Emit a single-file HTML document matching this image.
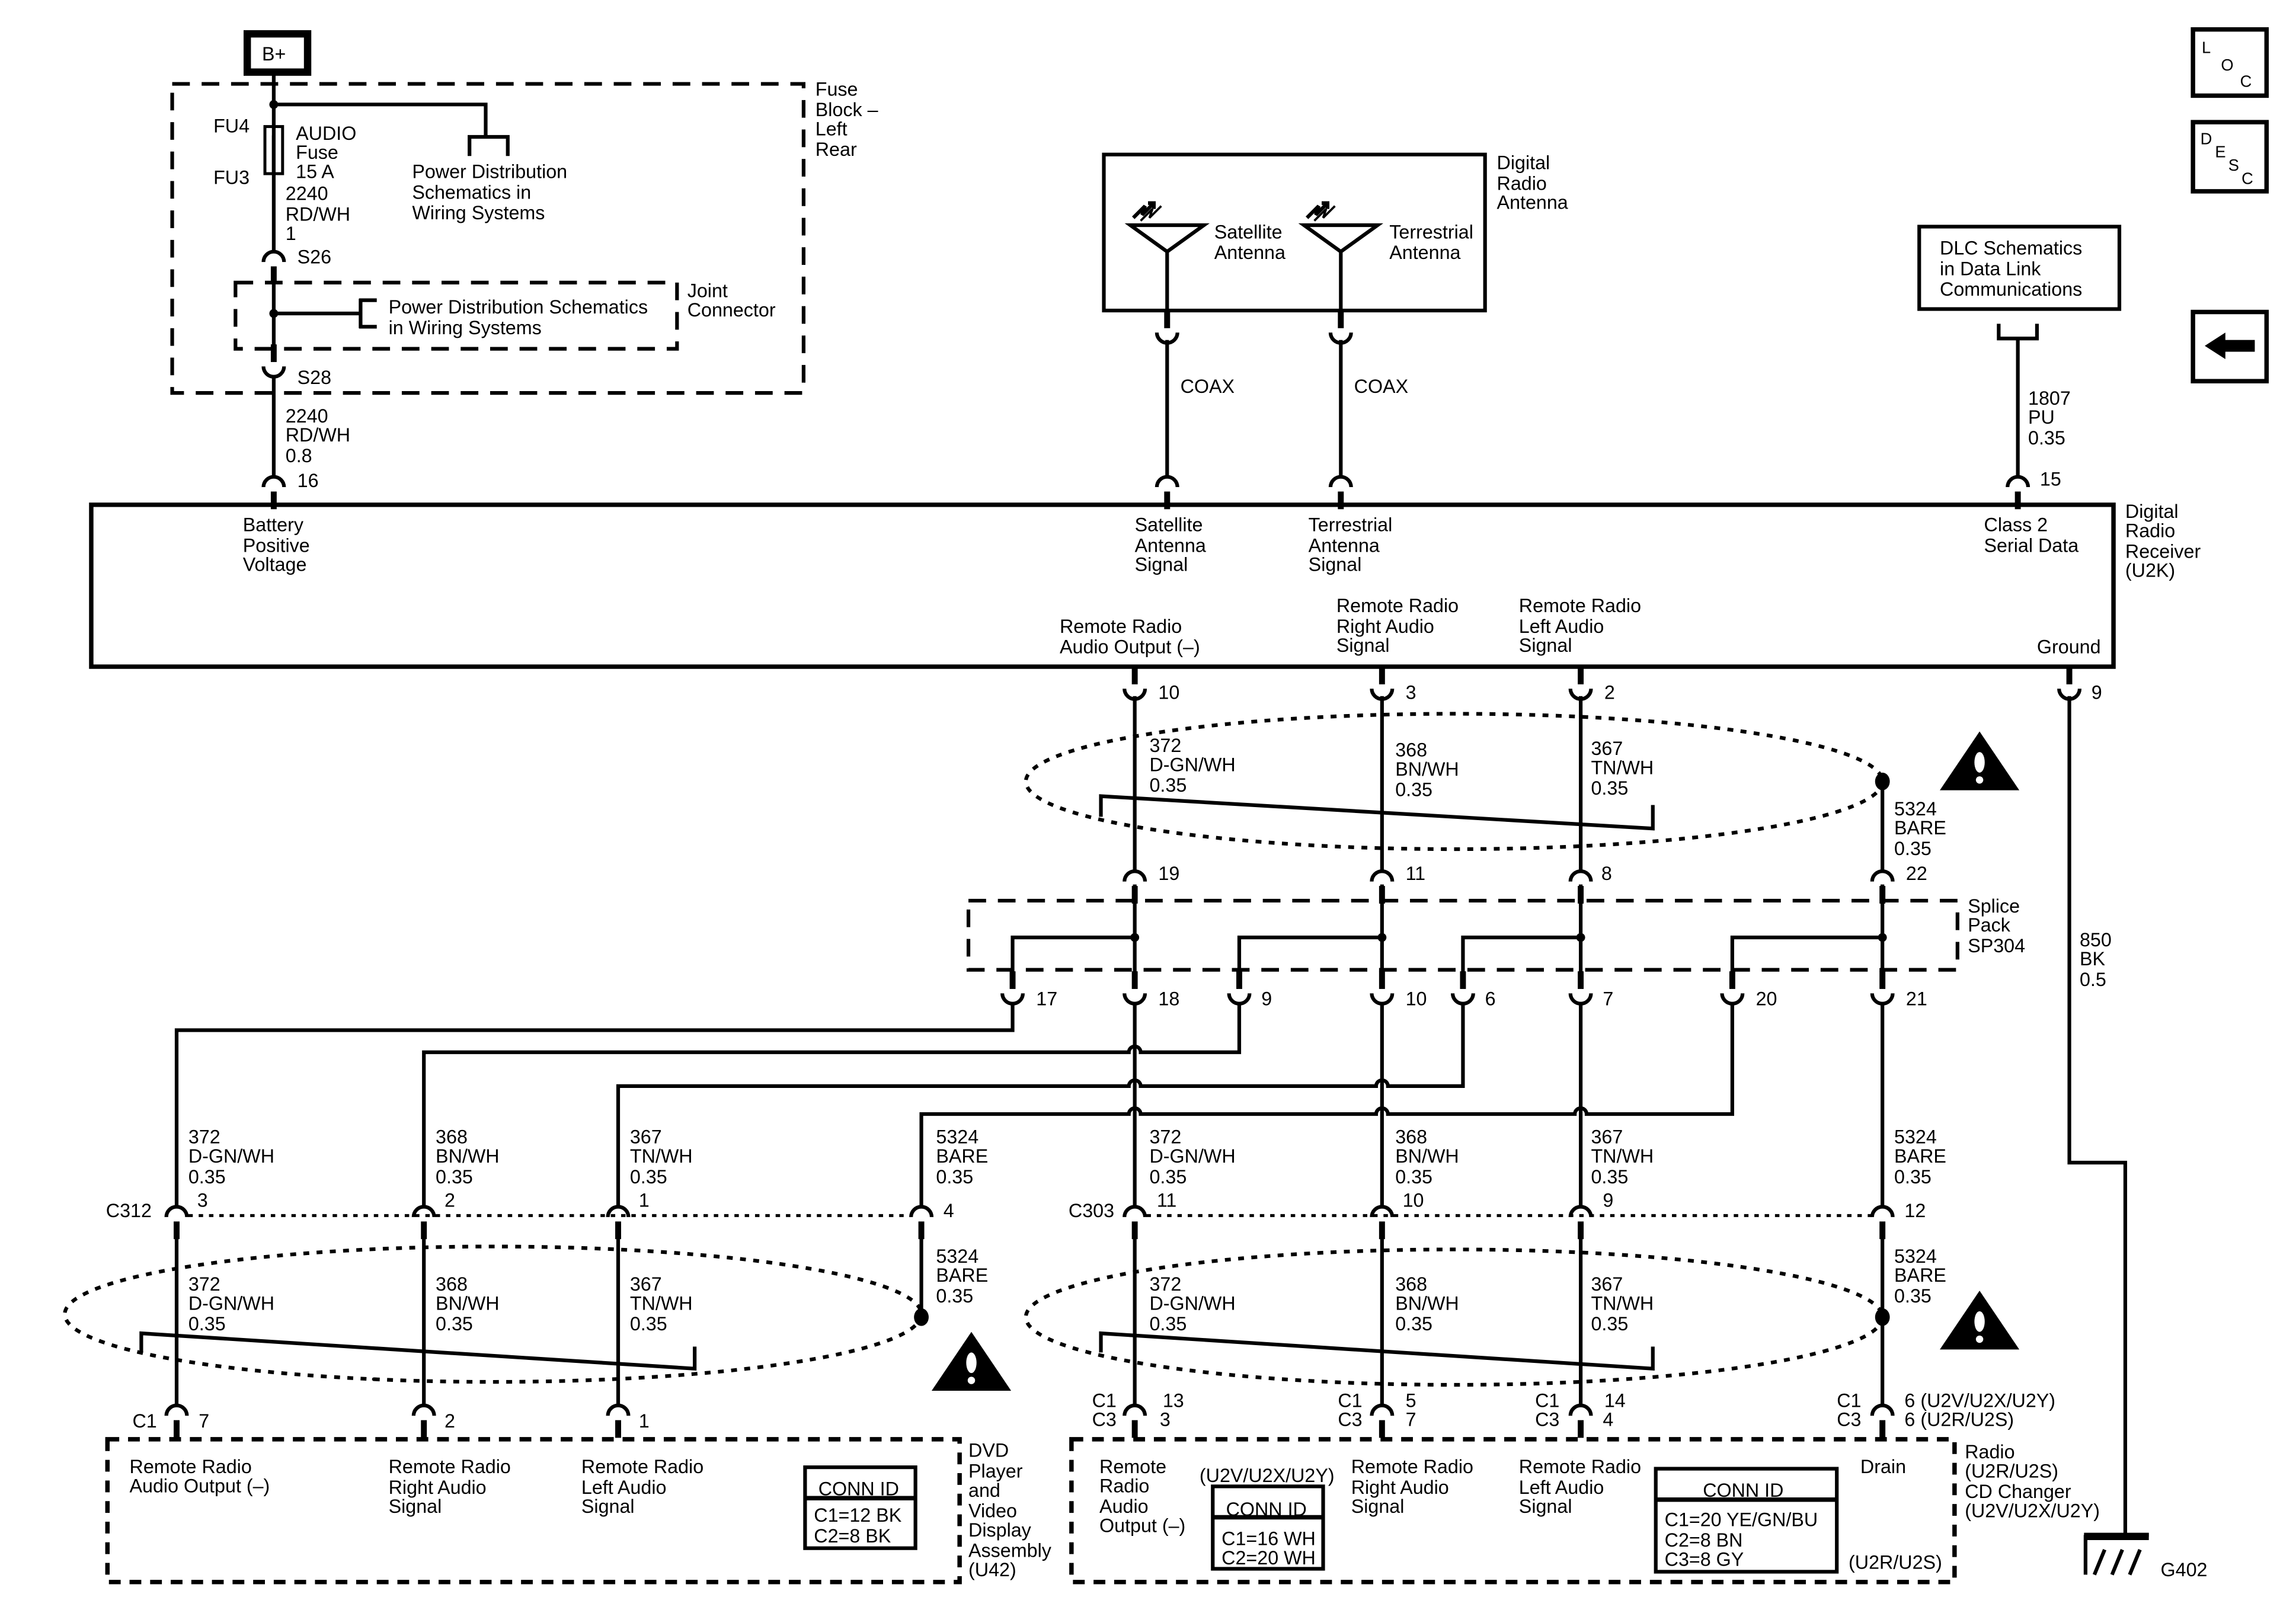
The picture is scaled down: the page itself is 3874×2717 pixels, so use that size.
<!DOCTYPE html>
<html><head><meta charset="utf-8"><style>
html,body{margin:0;padding:0;background:#fff;}
svg{display:block;}
text{font-family:"Liberation Sans",Arial,sans-serif;font-size:13px;fill:#000;}
</style></head><body>
<svg width="3874" height="2717" viewBox="0 0 1560 1094" preserveAspectRatio="none" xmlns="http://www.w3.org/2000/svg">
<defs>
<g id="fa"><path d="M-7,1 A7,7 0 0 1 7,1" fill="none" stroke="#000" stroke-width="2.5"/><rect x="-2" y="4" width="4" height="12" fill="#000"/></g>
<g id="ma"><path d="M-7,-1 A7,7 0 0 0 7,-1" fill="none" stroke="#000" stroke-width="2.5"/><rect x="-2" y="-16" width="4" height="12" fill="#000"/></g>
</defs>
<rect width="1560" height="1094" fill="#fff"/>
<g fill="none" stroke="#000" stroke-width="2.5">
<rect x="168" y="23" width="41" height="26" stroke-width="5"/>
<rect x="117" y="57" width="429" height="210" stroke-dasharray="12 8"/>
<path d="M186,49 V171"/>
<path d="M186,71 H330 V93"/>
<path d="M319,106 V93 H345 V106"/>
<rect x="180" y="86" width="12" height="32" stroke-width="2"/>
<path d="M186,92 V118"/>
<rect x="160" y="192" width="300" height="45" stroke-dasharray="12 8"/>
<path d="M186,193 V243"/>
<path d="M186,213 H245 M245,203 V223 M244,204 H256 M244,222 H256"/>
<path d="M186,257 V323"/>
<rect x="62" y="343" width="1374" height="110" stroke-width="3"/>
<rect x="750" y="105" width="259" height="106"/>
<path d="M768,153 H818 L793,171 Z M793,171 V211"/>
<path d="M886,153 H936 L911,171 Z M911,171 V211"/>
<path d="M793,231 V323 M911,231 V323"/>
<rect x="1304" y="154" width="136" height="56"/>
<path d="M1358,220 V230 H1384 V220 M1371,230 V323"/>
<rect x="1490" y="20" width="50" height="45" stroke-width="3"/>
<rect x="1490" y="83" width="50" height="47" stroke-width="3"/>
<rect x="1490" y="212" width="50" height="47" stroke-width="3"/>
<path d="M771,473 V591 M939,473 V591 M1074,473 V591 M1279,531 V591"/>
<path d="M771,601 V669 M939,601 V669 M1074,601 V669 M1279,601 V669" stroke-width="2.5"/>
<path d="M771,637 H688 V669 M939,637 H842 V669 M1074,637 H994 V669 M1279,637 H1177 V669"/>
<rect x="658" y="612" width="672" height="47" stroke-dasharray="12 8"/>
<path d="M771,683 V819 M939,683 V819 M1074,683 V819 M1279,683 V819"/>
<path d="M688,683 V700 H120 V819"/>
<path d="M842,683 V715 H775 A4,4 0 0 0 767,715 H288 V819"/>
<path d="M994,683 V738 H943 A4,4 0 0 0 935,738 H775 A4,4 0 0 0 767,738 H420 V819"/>
<path d="M1177,683 V757 H1078 A4,4 0 0 0 1070,757 H943 A4,4 0 0 0 935,757 H775 A4,4 0 0 0 767,757 H626 V819"/>
<path d="M1406,473 V790 H1444 V1043"/>
<path d="M128,826 H619 M779,826 H1272" stroke-dasharray="3 4" stroke-width="2"/>
<path d="M120,841 V954 M288,841 V954 M420,841 V954 M626,841 V895"/>
<path d="M771,841 V954 M939,841 V954 M1074,841 V954 M1279,841 V954"/>
<ellipse cx="988" cy="531" rx="291" ry="46" stroke-dasharray="4 5"/>
<ellipse cx="335" cy="893" rx="291" ry="46" stroke-dasharray="4 5"/>
<ellipse cx="988" cy="895" rx="291" ry="46" stroke-dasharray="4 5"/>
<path d="M748,555 V541 L1123,563 V547"/>
<path d="M96,919 V906 L472,930 V915"/>
<path d="M748,919 V906 L1123,930 V915"/>
<rect x="73" y="978" width="579" height="97" stroke-dasharray="8 6" stroke-width="3"/>
<rect x="728" y="978" width="600" height="97" stroke-dasharray="8 6" stroke-width="3"/>
<rect x="547" y="997" width="75" height="55" stroke-width="2.5"/>
<path d="M547,1018 H622" stroke-width="3"/>
<rect x="824" y="1010" width="75" height="56" stroke-width="2.5"/>
<path d="M824,1031 H899" stroke-width="3"/>
<rect x="1125" y="998" width="123" height="70" stroke-width="2.5"/>
<path d="M1125,1019 H1248" stroke-width="3"/>
<path d="M1416,1043 H1460 M1417,1043 V1070 M1423,1070 L1430,1053 M1435,1070 L1442,1053 M1447,1070 L1454,1053" stroke-width="2.5"/>
<path d="M1416,1044 H1460" stroke-width="5"/>
<path d="M770,148 L778,140 L776,146 L784,138 M780,138 H784 V142"/>
<path d="M775,150 L783,142 L781,148 L789,140" stroke-width="1.5"/>
<path d="M888,148 L896,140 L894,146 L902,138 M898,138 H902 V142"/>
<path d="M893,150 L901,142 L899,148 L907,140" stroke-width="1.5"/>
</g>
<g fill="#000">
<circle cx="186" cy="71" r="3"/><circle cx="186" cy="213" r="3"/>
<circle cx="771" cy="637" r="3"/><circle cx="939" cy="637" r="3"/><circle cx="1074" cy="637" r="3"/><circle cx="1279" cy="637" r="3"/>
<ellipse cx="1279" cy="531" rx="5" ry="6"/><ellipse cx="626" cy="895" rx="5" ry="6"/><ellipse cx="1279" cy="895" rx="5" ry="6"/>
<polygon points="1318,537 1372,537 1345,497"/>
<polygon points="1318,917 1372,917 1345,877"/>
<polygon points="633,945 687,945 660,905"/>
<polygon points="1498,235 1512,226 1512,244"/><rect x="1511" y="231" width="21" height="8"/>
</g>
<g fill="#fff">
<ellipse cx="1345" cy="518" rx="3.5" ry="7"/><circle cx="1345" cy="530" r="2.5"/>
<ellipse cx="1345" cy="898" rx="3.5" ry="7"/><circle cx="1345" cy="910" r="2.5"/>
<ellipse cx="660" cy="926" rx="3.5" ry="7"/><circle cx="660" cy="938" r="2.5"/>
</g>
<use href="#fa" x="186" y="177"/>
<use href="#ma" x="186" y="250"/>
<use href="#fa" x="186" y="330"/><use href="#fa" x="793" y="330"/><use href="#fa" x="911" y="330"/><use href="#fa" x="1371" y="330"/>
<use href="#ma" x="793" y="227"/><use href="#ma" x="911" y="227"/>
<use href="#ma" x="771" y="469"/><use href="#ma" x="939" y="469"/><use href="#ma" x="1074" y="469"/><use href="#ma" x="1406" y="469"/>
<use href="#fa" x="771" y="598"/><use href="#fa" x="939" y="598"/><use href="#fa" x="1074" y="598"/><use href="#fa" x="1279" y="598"/>
<use href="#ma" x="688" y="676"/><use href="#ma" x="771" y="676"/><use href="#ma" x="842" y="676"/><use href="#ma" x="939" y="676"/><use href="#ma" x="994" y="676"/><use href="#ma" x="1074" y="676"/><use href="#ma" x="1177" y="676"/><use href="#ma" x="1279" y="676"/>
<use href="#fa" x="120" y="826"/><use href="#fa" x="288" y="826"/><use href="#fa" x="420" y="826"/><use href="#fa" x="626" y="826"/>
<use href="#fa" x="771" y="826"/><use href="#fa" x="939" y="826"/><use href="#fa" x="1074" y="826"/><use href="#fa" x="1279" y="826"/>
<use href="#fa" x="120" y="961"/><use href="#fa" x="288" y="961"/><use href="#fa" x="420" y="961"/>
<use href="#fa" x="771" y="961"/><use href="#fa" x="939" y="961"/><use href="#fa" x="1074" y="961"/><use href="#fa" x="1279" y="961"/>
<text x="178" y="41">B+</text>
<text x="554" y="65">Fuse</text><text x="554" y="79">Block –</text><text x="554" y="92">Left</text><text x="554" y="106">Rear</text>
<text x="145" y="90">FU4</text><text x="145" y="125">FU3</text>
<text x="201" y="95">AUDIO</text><text x="201" y="108">Fuse</text><text x="201" y="121">15 A</text>
<text x="280" y="121">Power Distribution</text><text x="280" y="135">Schematics in</text><text x="280" y="149">Wiring Systems</text>
<text x="194" y="136">2240</text><text x="194" y="150">RD/WH</text><text x="194" y="163">1</text>
<text x="202" y="179">S26</text>
<text x="467" y="202">Joint</text><text x="467" y="215">Connector</text>
<text x="264" y="213">Power Distribution Schematics</text><text x="264" y="227">in Wiring Systems</text>
<text x="202" y="261">S28</text>
<text x="194" y="287">2240</text><text x="194" y="300">RD/WH</text><text x="194" y="314">0.8</text>
<text x="202" y="331">16</text>
<text x="1017" y="115">Digital</text><text x="1017" y="129">Radio</text><text x="1017" y="142">Antenna</text>
<text x="825" y="162">Satellite</text><text x="825" y="176">Antenna</text>
<text x="944" y="162">Terrestrial</text><text x="944" y="176">Antenna</text>
<text x="802" y="267">COAX</text><text x="920" y="267">COAX</text>
<text x="1318" y="173">DLC Schematics</text><text x="1318" y="187">in Data Link</text><text x="1318" y="201">Communications</text>
<text x="1378" y="275">1807</text><text x="1378" y="288">PU</text><text x="1378" y="302">0.35</text><text x="1386" y="330">15</text>
<text x="1496" y="36" style="font-size:11px">L</text><text x="1509" y="48" style="font-size:11px">O</text><text x="1522" y="59" style="font-size:11px">C</text>
<text x="1495" y="98" style="font-size:11px">D</text><text x="1505" y="107" style="font-size:11px">E</text><text x="1514" y="116" style="font-size:11px">S</text><text x="1523" y="125" style="font-size:11px">C</text>
<text x="1444" y="352">Digital</text><text x="1444" y="365">Radio</text><text x="1444" y="379">Receiver</text><text x="1444" y="392">(U2K)</text>
<text x="165" y="361">Battery</text><text x="165" y="375">Positive</text><text x="165" y="388">Voltage</text>
<text x="771" y="361">Satellite</text><text x="771" y="375">Antenna</text><text x="771" y="388">Signal</text>
<text x="889" y="361">Terrestrial</text><text x="889" y="375">Antenna</text><text x="889" y="388">Signal</text>
<text x="1348" y="361">Class 2</text><text x="1348" y="375">Serial Data</text>
<text x="1384" y="444">Ground</text>
<text x="720" y="430">Remote Radio</text><text x="720" y="444">Audio Output (–)</text>
<text x="908" y="416">Remote Radio</text><text x="908" y="430">Right Audio</text><text x="908" y="443">Signal</text>
<text x="1032" y="416">Remote Radio</text><text x="1032" y="430">Left Audio</text><text x="1032" y="443">Signal</text>
<text x="787" y="475">10</text><text x="955" y="475">3</text><text x="1090" y="475">2</text><text x="1421" y="475">9</text>
<text x="781" y="511">372</text><text x="781" y="524">D-GN/WH</text><text x="781" y="538">0.35</text>
<text x="948" y="514">368</text><text x="948" y="527">BN/WH</text><text x="948" y="541">0.35</text>
<text x="1081" y="513">367</text><text x="1081" y="526">TN/WH</text><text x="1081" y="540">0.35</text>
<text x="1287" y="554">5324</text><text x="1287" y="567">BARE</text><text x="1287" y="581">0.35</text>
<text x="787" y="598">19</text><text x="955" y="598">11</text><text x="1088" y="598">8</text><text x="1295" y="598">22</text>
<text x="1337" y="620">Splice</text><text x="1337" y="633">Pack</text><text x="1337" y="647">SP304</text>
<text x="704" y="683">17</text><text x="787" y="683">18</text><text x="857" y="683">9</text><text x="955" y="683">10</text><text x="1009" y="683">6</text><text x="1089" y="683">7</text><text x="1193" y="683">20</text><text x="1295" y="683">21</text>
<text x="1413" y="643">850</text><text x="1413" y="656">BK</text><text x="1413" y="670">0.5</text>
<text x="128" y="777">372</text><text x="128" y="790">D-GN/WH</text><text x="128" y="804">0.35</text>
<text x="296" y="777">368</text><text x="296" y="790">BN/WH</text><text x="296" y="804">0.35</text>
<text x="428" y="777">367</text><text x="428" y="790">TN/WH</text><text x="428" y="804">0.35</text>
<text x="636" y="777">5324</text><text x="636" y="790">BARE</text><text x="636" y="804">0.35</text>
<text x="781" y="777">372</text><text x="781" y="790">D-GN/WH</text><text x="781" y="804">0.35</text>
<text x="948" y="777">368</text><text x="948" y="790">BN/WH</text><text x="948" y="804">0.35</text>
<text x="1081" y="777">367</text><text x="1081" y="790">TN/WH</text><text x="1081" y="804">0.35</text>
<text x="1287" y="777">5324</text><text x="1287" y="790">BARE</text><text x="1287" y="804">0.35</text>
<text x="72" y="827">C312</text><text x="134" y="820">3</text><text x="302" y="820">2</text><text x="434" y="820">1</text><text x="641" y="827">4</text>
<text x="726" y="827">C303</text><text x="786" y="820">11</text><text x="953" y="820">10</text><text x="1089" y="820">9</text><text x="1294" y="827">12</text>
<text x="636" y="858">5324</text><text x="636" y="871">BARE</text><text x="636" y="885">0.35</text>
<text x="128" y="877">372</text><text x="128" y="890">D-GN/WH</text><text x="128" y="904">0.35</text>
<text x="296" y="877">368</text><text x="296" y="890">BN/WH</text><text x="296" y="904">0.35</text>
<text x="428" y="877">367</text><text x="428" y="890">TN/WH</text><text x="428" y="904">0.35</text>
<text x="1287" y="858">5324</text><text x="1287" y="871">BARE</text><text x="1287" y="885">0.35</text>
<text x="781" y="877">372</text><text x="781" y="890">D-GN/WH</text><text x="781" y="904">0.35</text>
<text x="948" y="877">368</text><text x="948" y="890">BN/WH</text><text x="948" y="904">0.35</text>
<text x="1081" y="877">367</text><text x="1081" y="890">TN/WH</text><text x="1081" y="904">0.35</text>
<text x="90" y="970">C1</text><text x="135" y="970">7</text><text x="302" y="970">2</text><text x="434" y="970">1</text>
<text x="742" y="956">C1</text><text x="742" y="969">C3</text><text x="790" y="956">13</text><text x="788" y="969">3</text>
<text x="909" y="956">C1</text><text x="909" y="969">C3</text><text x="955" y="956">5</text><text x="955" y="969">7</text>
<text x="1043" y="956">C1</text><text x="1043" y="969">C3</text><text x="1090" y="956">14</text><text x="1089" y="969">4</text>
<text x="1248" y="956">C1</text><text x="1248" y="969">C3</text><text x="1294" y="956">6 (U2V/U2X/U2Y)</text><text x="1294" y="969">6 (U2R/U2S)</text>
<text x="658" y="990">DVD</text><text x="658" y="1004">Player</text><text x="658" y="1017">and</text><text x="658" y="1031">Video</text><text x="658" y="1044">Display</text><text x="658" y="1058">Assembly</text><text x="658" y="1071">(U42)</text>
<text x="88" y="1001">Remote Radio</text><text x="88" y="1014">Audio Output (–)</text>
<text x="264" y="1001">Remote Radio</text><text x="264" y="1015">Right Audio</text><text x="264" y="1028">Signal</text>
<text x="395" y="1001">Remote Radio</text><text x="395" y="1015">Left Audio</text><text x="395" y="1028">Signal</text>
<text x="556" y="1016">CONN ID</text><text x="553" y="1034">C1=12 BK</text><text x="553" y="1048">C2=8 BK</text>
<text x="1335" y="991">Radio</text><text x="1335" y="1004">(U2R/U2S)</text><text x="1335" y="1018">CD Changer</text><text x="1335" y="1031">(U2V/U2X/U2Y)</text>
<text x="747" y="1001">Remote</text><text x="747" y="1014">Radio</text><text x="747" y="1028">Audio</text><text x="747" y="1041">Output (–)</text>
<text x="815" y="1007">(U2V/U2X/U2Y)</text>
<text x="833" y="1030">CONN ID</text><text x="830" y="1050">C1=16 WH</text><text x="830" y="1063">C2=20 WH</text>
<text x="918" y="1001">Remote Radio</text><text x="918" y="1015">Right Audio</text><text x="918" y="1028">Signal</text>
<text x="1032" y="1001">Remote Radio</text><text x="1032" y="1015">Left Audio</text><text x="1032" y="1028">Signal</text>
<text x="1157" y="1017">CONN ID</text><text x="1131" y="1037">C1=20 YE/GN/BU</text><text x="1131" y="1051">C2=8 BN</text><text x="1131" y="1064">C3=8 GY</text>
<text x="1256" y="1066">(U2R/U2S)</text><text x="1264" y="1001">Drain</text>
<text x="1468" y="1071">G402</text>
</svg>
</body></html>
